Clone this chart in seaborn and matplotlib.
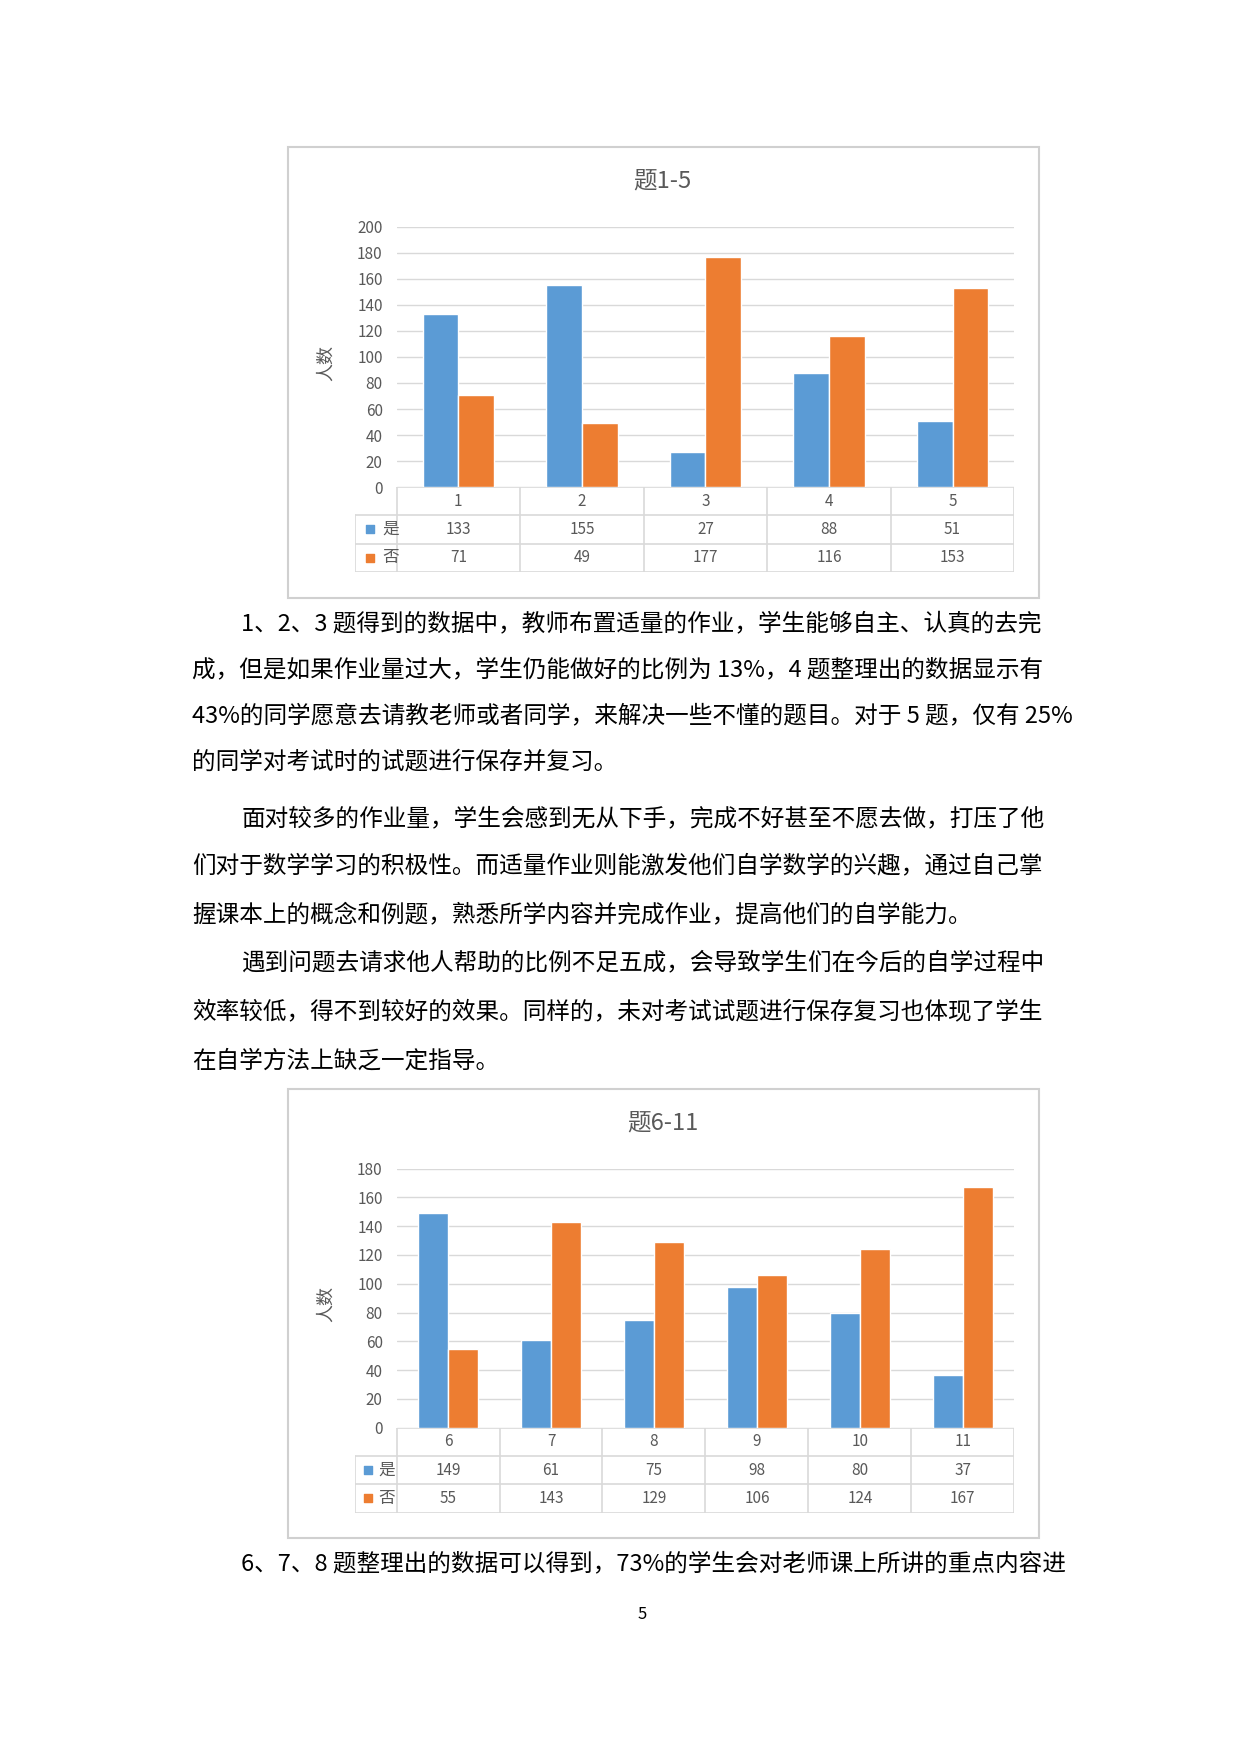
import matplotlib
matplotlib.use("Agg")
import matplotlib.pyplot as plt
import seaborn as sns
import pandas as pd

# 数据
cats1 = ["1", "2", "3", "4", "5"]
yes1 = [133, 155, 27, 88, 51]
no1 = [71, 49, 177, 116, 153]
cats2 = ["6", "7", "8", "9", "10", "11"]
yes2 = [149, 61, 75, 98, 80, 37]
no2 = [55, 143, 129, 106, 124, 167]
series_names = ["是", "否"]
colors = ["#5B9BD5", "#ED7D31"]

para1 = ["1、2、3 题得到的数据中，教师布置适量的作业，学生能够自主、认真的去完",
         "成，但是如果作业量过大，学生仍能做好的比例为 13%，4 题整理出的数据显示有",
         "43%的同学愿意去请教老师或者同学，来解决一些不懂的题目。对于 5 题，仅有 25%",
         "的同学对考试时的试题进行保存并复习。"]
para2 = ["面对较多的作业量，学生会感到无从下手，完成不好甚至不愿去做，打压了他",
         "们对于数学学习的积极性。而适量作业则能激发他们自学数学的兴趣，通过自己掌",
         "握课本上的概念和例题，熟悉所学内容并完成作业，提高他们的自学能力。"]
para3 = ["遇到问题去请求他人帮助的比例不足五成，会导致学生们在今后的自学过程中",
         "效率较低，得不到较好的效果。同样的，未对考试试题进行保存复习也体现了学生",
         "在自学方法上缺乏一定指导。"]
last_line = "6、7、8 题整理出的数据可以得到，73%的学生会对老师课上所讲的重点内容进"

sns.set_theme(style="white")
plt.rcParams['font.family'] = ['Noto Sans CJK SC', 'DejaVu Sans']

W, H = 1110.0, 1570.0
fig = plt.figure(figsize=(12.4, 17.54), dpi=100)
GRAY = "#595959"
LINE = "#D9D9D9"


def fx(x):
    return x / W


def fy(y):
    return 1 - y / H


def chart(frame, plot, title, cats, yes, no, ymax):
    fl, ft, fr, fb = frame
    pl, pt, pr, pb = plot
    # frame
    fig.patches.append(plt.Rectangle((fx(fl), fy(fb)), fx(fr - fl), (fb - ft) / H,
                                     transform=fig.transFigure, fill=False,
                                     ec="#D0D0D0", lw=1.5))
    fig.text(fx((fl + fr) / 2 - 1), fy(ft + 30), title, ha="center", va="center",
             fontsize=17, color=GRAY)
    ax = fig.add_axes([fx(pl), fy(pb), fx(pr - pl), (pb - pt) / H])
    df = pd.DataFrame({"cat": cats * 2, "val": yes + no,
                       "s": [series_names[0]] * len(cats) + [series_names[1]] * len(cats)})
    sns.barplot(data=df, x="cat", y="val", hue="s", palette=colors, width=0.58,
                gap=0, ax=ax, legend=False, saturation=1)
    n = len(cats)
    ax.set_xlim(-0.5, n - 0.5)
    ax.set_ylim(0, ymax)
    ax.set_yticks(range(0, ymax + 1, 20))
    ax.tick_params(axis="y", labelsize=11, labelcolor=GRAY, length=0, pad=10)
    ax.set_xticks([])
    ax.set_xlabel("")
    ax.set_ylabel("")
    ax.grid(axis="y", color=LINE, lw=1)
    ax.set_axisbelow(True)
    for s in ax.spines.values():
        s.set_visible(False)
    fig.text(fx(292), fy((pt + pb) / 2 + 5), "人数", rotation=90, ha="center",
             va="center", fontsize=13, color=GRAY)

    # data table below
    rowh = 25.3
    tl = 318
    tax = fig.add_axes([fx(tl), fy(pb + 3 * rowh), fx(pr - tl), 3 * rowh / H])
    step = (pr - pl) / n
    left = -0.5 - (pl - tl) / step
    tax.set_xlim(left, n - 0.5)
    tax.set_ylim(3, 0)
    tax.axis("off")
    kw = dict(color=LINE, lw=1.2)
    tax.plot([-0.5, n - 0.5], [0, 0], **kw)
    tax.plot([left, n - 0.5], [1, 1], **kw)
    tax.plot([left, n - 0.5], [2, 2], **kw)
    tax.plot([left, n - 0.5], [3, 3], **kw)
    tax.plot([left, left], [1, 3], **kw)
    for i in range(n + 1):
        tax.plot([i - 0.5, i - 0.5], [0, 3], **kw)
    for i, c in enumerate(cats):
        tax.text(i, 0.5, c, ha="center", va="center", fontsize=11, color=GRAY)
        tax.text(i, 1.5, str(yes[i]), ha="center", va="center", fontsize=11, color=GRAY)
        tax.text(i, 2.5, str(no[i]), ha="center", va="center", fontsize=11, color=GRAY)
    for r, (nm, col) in enumerate(zip(series_names, colors)):
        mx = left + 0.1 * (0.5 - left + 0) / 1
        tax.scatter([left + 0.12], [1.5 + r], marker="s", s=30, color=col)
        tax.text(left + 0.22, 1.5 + r, nm, ha="left", va="center", fontsize=12, color=GRAY)


chart((258, 132, 930, 535), (355, 203, 908, 436), "题1-5", cats1, yes1, no1, 200)
chart((258, 975, 930, 1377), (355, 1046, 908, 1278), "题6-11", cats2, yes2, no2, 180)

fs = 17


def para(lines, y0, dy):
    for k, t in enumerate(lines):
        x = 216 if k == 0 else 172
        fig.text(fx(x), fy(y0 + k * dy), t, ha="left", va="center", fontsize=fs,
                 color="black")


para(para1, 558, 41.3)
para(para2, 733, 43)
para(para3, 862, 44)
fig.text(fx(216), fy(1400), last_line, ha="left", va="center", fontsize=fs, color="black")
fig.text(fx(575), fy(1445), "5", ha="center", va="center", fontsize=12, color="black")

fig.savefig("out.png", dpi=100, facecolor="white")
